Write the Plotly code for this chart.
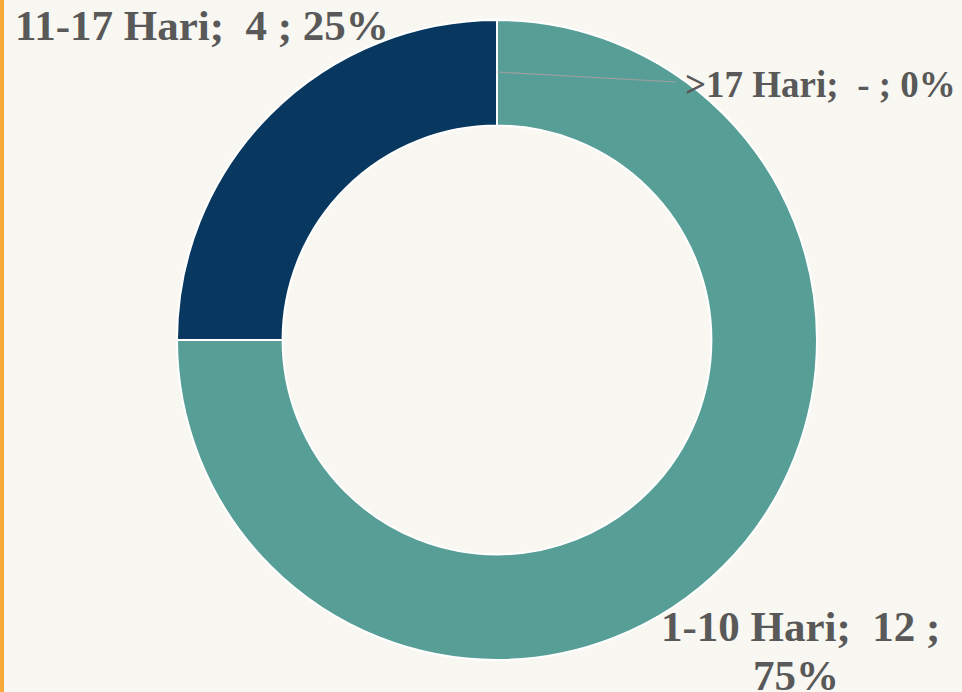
import plotly.graph_objects as go

categories = ["1-10 Hari", "11-17 Hari", ">17 Hari"]
values = [12, 4, 0]
value_labels = ["12", "4", "-"]
colors = ["#569E96", "#08375F", "#569E96"]

W, H = 962, 692
total = sum(values)
pcts = [f"{round(v / total * 100)}%" for v in values]

cx, cy, r = 497, 340, 320

fig = go.Figure(go.Pie(
    labels=categories, values=values, sort=False, direction="clockwise",
    rotation=0, hole=0.67,
    marker=dict(colors=colors, line=dict(color="white", width=2)),
    textinfo="none", hoverinfo="label+value+percent", showlegend=False,
    domain=dict(x=[(cx - r) / W, (cx + r) / W], y=[1 - (cy + r) / H, 1 - (cy - r) / H]),
))

FAM = "Liberation Serif, Times New Roman, serif"
def font(sz):
    return dict(family=FAM, size=sz, color="#595959")

def px(x, y):
    return x / W, 1 - y / H

def add(text, x, y, xanchor, sz):
    ax, ay = px(x, y)
    return dict(x=ax, y=ay, xref="paper", yref="paper", text=f"<b>{text}</b>",
                xanchor=xanchor, yanchor="middle", showarrow=False, font=font(sz))

ann = [
    add(f"{categories[1]};\u00a0 {value_labels[1]} ; {pcts[1]}", 13, 25, "left", 43),
    add(f"{categories[2]};\u00a0 {value_labels[2]} ; {pcts[2]}", 683, 84, "left", 37),
    add(f"{categories[0]};\u00a0 {value_labels[0]} ;", 800, 626, "center", 43),
    add(f"{pcts[0]}", 796, 675, "center", 43),
]

x0, y0 = px(497, 72)
x1, y1 = px(676, 82)
shapes = [
    dict(type="line", xref="paper", yref="paper", x0=x0, y0=y0, x1=x1, y1=y1,
         line=dict(color="#A0A0A0", width=1.2)),
    dict(type="rect", xref="paper", yref="paper", x0=0, x1=4 / W, y0=0, y1=1,
         fillcolor="#F9A93A", line=dict(width=0)),
]

fig.update_layout(
    width=W, height=H, margin=dict(l=0, r=0, t=0, b=0),
    paper_bgcolor="#F8F7F1", plot_bgcolor="#F8F7F1",
    annotations=ann, shapes=shapes,
)
fig.write_html("out.html", config={"displayModeBar": False},
               post_script="document.body.style.margin='0';document.body.style.overflow='hidden';")
